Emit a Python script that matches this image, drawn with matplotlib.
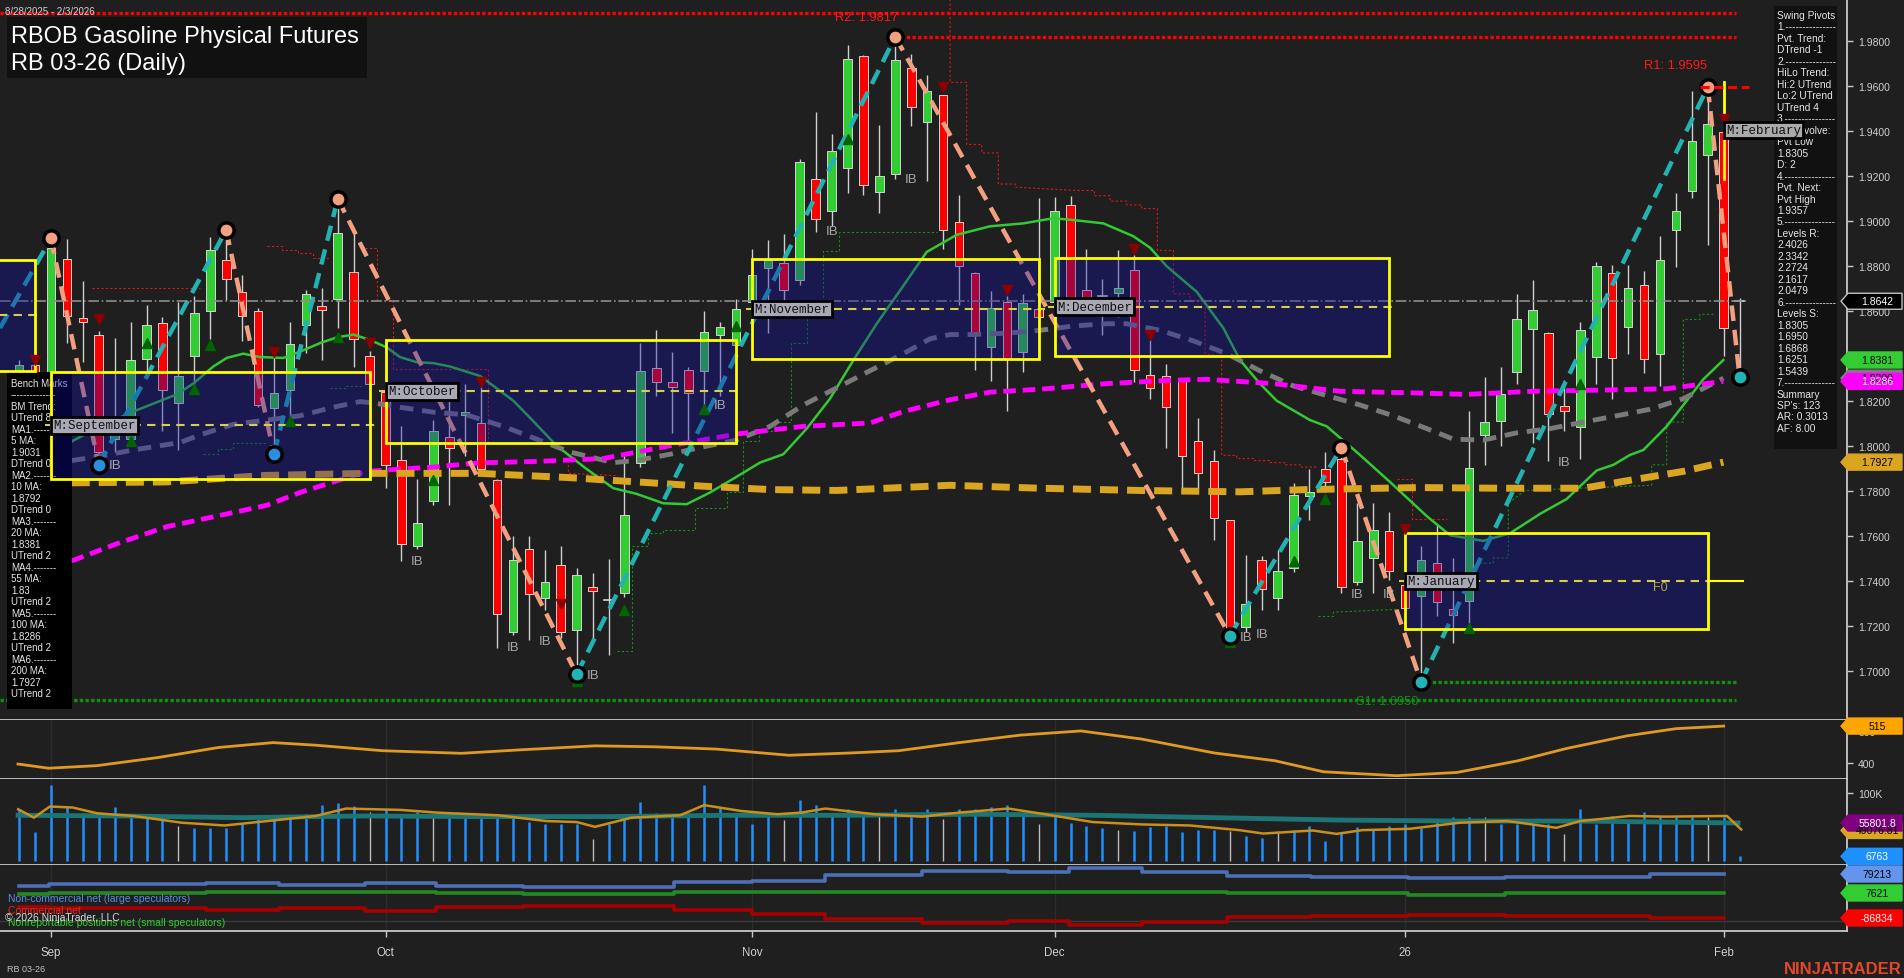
import numpy as np
import matplotlib
matplotlib.use("Agg")
import matplotlib.pyplot as plt
from matplotlib.patches import Rectangle, Polygon
from matplotlib.transforms import IdentityTransform

plt.rcParams['font.family'] = ['Liberation Sans', 'DejaVu Sans']

# ---------------- text ----------------
title_line1 = "RBOB Gasoline Physical Futures"
title_line2 = "RB 03-26 (Daily)"
date_range = "8/28/2025 - 2/3/2026"

month_tick_idx = [2, 23, 46, 65, 87, 107]
month_tick_lbl = ["Sep", "Oct", "Nov", "Dec", "26", "Feb"]
price_ticks = [1.70, 1.72, 1.74, 1.76, 1.78, 1.80, 1.82, 1.84, 1.86, 1.88, 1.90, 1.92, 1.94, 1.96, 1.98]

# ---------------- OHLC (daily bars, index 0 = 8/28/2025) ----------------
opens = [1.8330, 1.8360, 1.8320, 1.8830, 1.8566, 1.8490, 1.8030, 1.8030, 1.8384, 1.8545,
         1.8188, 1.8400, 1.8599, 1.8826, 1.8684, 1.8599, 1.8168, 1.8247, 1.8536, 1.8622,
         1.8650, 1.8773, 1.8399, 1.8238, 1.7938, 1.7554, 1.7753, 1.8038, 1.8135, 1.8101,
         1.7848, 1.7174, 1.7540, 1.7321, 1.7469, 1.7180, 1.7374, 1.7310, 1.7345, 1.7924,
         1.8346, 1.8285, 1.8337, 1.8333, 1.8491, 1.8447, 1.8637, 1.8788, 1.8813, 1.8735,
         1.9187, 1.9041, 1.9235, 1.9732, 1.9126, 1.9206, 1.9677, 1.9438, 1.9558, 1.8992,
         1.8766, 1.8437, 1.8640, 1.8418, 1.8608, 1.8637, 1.9070, 1.8690, 1.8660, 1.8678,
         1.8779, 1.8314, 1.8308, 1.8295, 1.8019, 1.7934, 1.7668, 1.7193, 1.7491, 1.7323,
         1.7455, 1.7778, 1.7896, 1.7943, 1.7393, 1.7501, 1.7621, 1.7383, 1.7330, 1.7478,
         1.7275, 1.7311, 1.8048, 1.8109, 1.8327, 1.8519, 1.8500, 1.8177, 1.8082, 1.8394,
         1.8769, 1.8527, 1.8713, 1.8409, 1.8959, 1.9134, 1.9292, 1.9396, 1.8640]
highs = [1.8380, 1.8420, 1.8921, 1.8918, 1.8730, 1.8510, 1.8480, 1.8550, 1.8627, 1.8570,
         1.8637, 1.8665, 1.8927, 1.8959, 1.8760, 1.8610, 1.8390, 1.8550, 1.8690, 1.8703,
         1.9098, 1.8940, 1.8420, 1.8260, 1.8086, 1.7850, 1.8114, 1.8200, 1.8275, 1.8260,
         1.7850, 1.7598, 1.7600, 1.7535, 1.7554, 1.7455, 1.7434, 1.7497, 1.7972, 1.8456,
         1.8513, 1.8418, 1.8350, 1.8599, 1.8550, 1.8652, 1.8874, 1.8912, 1.8940, 1.9273,
         1.9482, 1.9387, 1.9780, 1.9735, 1.9425, 1.9817, 1.9740, 1.9647, 1.9560, 1.9115,
         1.8770, 1.8688, 1.8665, 1.8675, 1.9100, 1.9106, 1.9111, 1.8874, 1.8741, 1.8868,
         1.8846, 1.8469, 1.8365, 1.8300, 1.8124, 1.7981, 1.7670, 1.7516, 1.7510, 1.7535,
         1.7835, 1.7896, 1.7972, 1.7991, 1.7744, 1.7744, 1.7706, 1.7420, 1.7554, 1.7649,
         1.7503, 1.8152, 1.8304, 1.8348, 1.8675, 1.8735, 1.8505, 1.8291, 1.8551, 1.8817,
         1.8802, 1.8804, 1.8775, 1.8931, 1.9125, 1.9577, 1.9595, 1.9580, 1.8656]
lows = [1.8290, 1.8280, 1.8280, 1.8456, 1.8370, 1.7915, 1.7970, 1.8000, 1.8310, 1.8067,
        1.7980, 1.8270, 1.8475, 1.8646, 1.8466, 1.8170, 1.7962, 1.8114, 1.8410, 1.8380,
        1.8523, 1.8350, 1.8250, 1.7810, 1.7488, 1.7539, 1.7735, 1.7735, 1.7955, 1.7875,
        1.7102, 1.7160, 1.7136, 1.7270, 1.7146, 1.6984, 1.7123, 1.7070, 1.7326, 1.7905,
        1.8223, 1.8057, 1.8020, 1.8180, 1.8220, 1.8430, 1.8580, 1.8500, 1.8640, 1.8713,
        1.8950, 1.8978, 1.9125, 1.9115, 1.9035, 1.9185, 1.9420, 1.9178, 1.8874, 1.8627,
        1.8338, 1.8289, 1.8152, 1.8329, 1.8550, 1.8600, 1.8580, 1.8580, 1.8494, 1.8570,
        1.8285, 1.8209, 1.7991, 1.7810, 1.7810, 1.7579, 1.7155, 1.7174, 1.7269, 1.7269,
        1.7440, 1.7668, 1.7792, 1.7345, 1.7383, 1.7345, 1.7402, 1.7265, 1.6950, 1.7241,
        1.7123, 1.7212, 1.7915, 1.8000, 1.8276, 1.8010, 1.7934, 1.8067, 1.7943, 1.8276,
        1.8209, 1.8409, 1.8323, 1.8266, 1.8792, 1.9102, 1.8893, 1.8399, 1.8305]
closes = [1.8360, 1.8320, 1.8880, 1.8576, 1.8550, 1.7970, 1.8050, 1.8380, 1.8536, 1.8247,
          1.8310, 1.8590, 1.8868, 1.8740, 1.8576, 1.8181, 1.8234, 1.8450, 1.8675, 1.8603,
          1.8944, 1.8475, 1.8276, 1.7915, 1.7564, 1.7658, 1.8067, 1.7991, 1.8150, 1.7896,
          1.7254, 1.7491, 1.7340, 1.7396, 1.7170, 1.7427, 1.7355, 1.7316, 1.7691, 1.8333,
          1.8285, 1.8260, 1.8234, 1.8507, 1.8526, 1.8608, 1.8760, 1.8826, 1.8694, 1.9259,
          1.9007, 1.9311, 1.9719, 1.9159, 1.9197, 1.9715, 1.9505, 1.9578, 1.8960, 1.8798,
          1.8500, 1.8612, 1.8384, 1.8633, 1.8570, 1.9045, 1.8637, 1.8637, 1.8665, 1.8699,
          1.8338, 1.8257, 1.8171, 1.7953, 1.7877, 1.7678, 1.7174, 1.7298, 1.7364, 1.7444,
          1.7782, 1.7795, 1.7839, 1.7374, 1.7577, 1.7626, 1.7444, 1.7279, 1.7493, 1.7307,
          1.7247, 1.7900, 1.8105, 1.8228, 1.8561, 1.8602, 1.8143, 1.8152, 1.8513, 1.8798,
          1.8390, 1.8699, 1.8386, 1.8827, 1.9045, 1.9354, 1.9429, 1.8523, 1.8642]

# ---------------- moving averages ----------------
ma20_x = [3.30, 5.08, 7.17, 8.21, 9.89, 10.93, 12.19, 13.03, 14.07, 15.12,
          16.58, 17.63, 18.89, 19.93, 20.98, 22.03, 23.07, 23.91, 24.96, 26.00,
          27.05, 28.93, 31.02, 32.07, 33.74, 35.63, 37.30, 38.76, 40.44, 41.90,
          43.37, 45.04, 46.51, 47.97, 49.44, 50.90, 52.37, 53.83, 55.30, 56.97,
          58.85, 60.94, 63.03, 64.92, 66.17, 68.06, 69.94, 70.99, 72.03, 73.92,
          75.59, 76.64, 77.89, 78.94, 81.03, 82.08, 83.96, 86.05, 88.36, 89.82,
          91.91, 93.59, 95.47, 97.14, 99.03, 100.08, 101.12, 101.96, 103.42, 104.47,
          105.72, 106.98]
ma20_y = [1.8019, 1.8086, 1.8152, 1.8181, 1.8228, 1.8276, 1.8352, 1.8390, 1.8409, 1.8394,
          1.8390, 1.8418, 1.8456, 1.8481, 1.8494, 1.8470, 1.8437, 1.8394, 1.8371, 1.8367,
          1.8352, 1.8310, 1.8200, 1.8124, 1.8000, 1.7896, 1.7811, 1.7786, 1.7744, 1.7740,
          1.7792, 1.7862, 1.7925, 1.7962, 1.8076, 1.8209, 1.8380, 1.8542, 1.8690, 1.8861,
          1.8937, 1.8975, 1.8988, 1.9011, 1.9003, 1.8988, 1.8931, 1.8880, 1.8798, 1.8684,
          1.8523, 1.8380, 1.8276, 1.8200, 1.8114, 1.8086, 1.7972, 1.7839, 1.7687, 1.7602,
          1.7577, 1.7611, 1.7697, 1.7763, 1.7890, 1.7915, 1.7959, 1.7981, 1.8086, 1.8181,
          1.8295, 1.8381]
ma55_x = [3.30, 5.08, 7.17, 8.84, 10.1, 11.35, 13.45, 15.54, 17.63, 19.72,
          21.4, 22.24, 23.91, 26.0, 28.09, 30.39, 32.49, 34.58, 37.30, 38.76,
          40.86, 42.95, 45.04, 47.14, 49.23, 51.32, 53.41, 55.51, 57.18, 58.43,
          59.9, 62.0, 64.1, 66.17, 68.27, 69.52, 71.61, 73.7, 75.8, 77.89,
          79.98, 82.08, 84.17, 86.26, 88.36, 90.03, 91.91, 94.0, 96.1, 98.2,
          100.29, 102.38, 104.47, 106.98]
ma55_y = [1.7934, 1.7953, 1.7981, 1.8000, 1.8014, 1.8048, 1.8095, 1.8114, 1.8133, 1.8171,
          1.8196, 1.8190, 1.8171, 1.8149, 1.8137, 1.8086, 1.8029, 1.7972, 1.7925, 1.7934,
          1.7962, 1.7995, 1.8025, 1.8086, 1.8181, 1.8257, 1.8333, 1.8409, 1.8475, 1.8494,
          1.8494, 1.8500, 1.8513, 1.8532, 1.8542, 1.8542, 1.8513, 1.8466, 1.8409, 1.8333,
          1.8266, 1.8223, 1.8181, 1.8133, 1.8076, 1.8029, 1.8025, 1.8057, 1.8076, 1.8105,
          1.8133, 1.8162, 1.8209, 1.8300]
ma100_x = [3.30, 6.12, 9.26, 12.40, 15.54, 17.63, 19.72, 21.82, 23.91, 26.0,
           28.93, 32.49, 36.67, 40.86, 45.04, 49.23, 53.41, 55.51, 58.43, 60.94,
           64.08, 68.27, 72.45, 74.54, 78.72, 82.91, 87.93, 90.86, 95.05, 99.24,
           103.42, 106.98]
ma100_y = [1.7488, 1.7564, 1.7640, 1.7687, 1.7735, 1.7792, 1.7839, 1.7886, 1.7896, 1.7905,
           1.7924, 1.7930, 1.7943, 1.8000, 1.8052, 1.8086, 1.8101, 1.8152, 1.8204, 1.8238,
           1.8251, 1.8276, 1.8291, 1.8295, 1.8276, 1.8242, 1.8234, 1.8228, 1.8242, 1.8247,
           1.8253, 1.8286]
ma200_x = [3.30, 9.26, 15.54, 21.82, 28.93, 34.58, 38.76, 42.95, 47.14, 51.32,
           58.43, 64.08, 70.36, 76.64, 80.82, 87.93, 92.96, 98.2, 101.33, 104.47, 106.98]
ma200_y = [1.7835, 1.7839, 1.7868, 1.7877, 1.7877, 1.7858, 1.7839, 1.7820, 1.7805, 1.7801,
           1.7824, 1.7811, 1.7801, 1.7795, 1.7805, 1.7814, 1.7811, 1.7811, 1.7849, 1.7886, 1.7927]

# ---------------- swing pivots / zigzag ----------------
zz_x = [-1.2, 2, 5, 13, 16, 20, 35, 55, 76, 83, 88, 106, 108]
zz_y = [1.8523, 1.8921, 1.7915, 1.8959, 1.7962, 1.9098, 1.6984, 1.9817, 1.7155, 1.7991, 1.6950, 1.9595, 1.8305]
piv_hi_x = [2, 13, 20, 55, 83, 106]
piv_hi_y = [1.8921, 1.8959, 1.9098, 1.9817, 1.7991, 1.9595]
piv_lo_x = [5, 16, 35, 76, 88, 108]
piv_lo_y = [1.7915, 1.7962, 1.6984, 1.7155, 1.6950, 1.8305]
piv_lo_col = ['#2a8fe0', '#2a8fe0', '#22b4b4', '#22b4b4', '#22b4b4', '#22b4b4']

# ---------------- monthly range boxes ----------------
box_name = ["", "M:September", "M:October", "M:November", "M:December", "M:January"]
box_start = [-1.6, 2, 23, 46, 65, 87]
box_end = [1.0, 22, 45, 64, 86, 106]
box_top = [1.8827, 1.8329, 1.8471, 1.8830, 1.8832, 1.7611]
box_bot = [1.8333, 1.7852, 1.8010, 1.8384, 1.8399, 1.7184]
box_mid = [1.8583, 1.8090, 1.8241, 1.8608, 1.8618, 1.7399]

# ---------------- levels ----------------
lvl_r_top = 1.9923
lvl_r2 = 1.9817
lvl_r1 = 1.9595
lvl_s1 = 1.6950
lvl_s2 = 1.6868
last_price = 1.8642

# ---------------- trailing stop steps ----------------
red_trail = [
    [(4.55, 1.8703), (11.35, 1.8703)],
    [(15.54, 1.8889), (16.48, 1.8889), (16.48, 1.8868), (17.48, 1.8868), (17.48, 1.8855),
     (18.47, 1.8855), (18.47, 1.8836), (19.5, 1.8836)],
    [(21.71, 1.8880), (22.49, 1.8880), (22.49, 1.8646), (23.49, 1.8646), (23.49, 1.8342),
     (29.45, 1.8342), (29.45, 1.8014)],
    [(34.48, 1.7934), (34.48, 1.7877), (37.5, 1.7867)],
    [(58.44, 1.9985), (58.44, 1.9615), (59.48, 1.9615), (59.48, 1.9339), (60.43, 1.9339),
     (60.43, 1.9301), (61.47, 1.9301), (61.47, 1.9163), (62.52, 1.9163), (62.52, 1.9149),
     (66.49, 1.9134), (67.5, 1.9134), (67.5, 1.9111), (68.48, 1.9111), (68.48, 1.9087),
     (69.53, 1.9087), (69.53, 1.9070), (70.47, 1.9070), (70.47, 1.9054), (71.45, 1.9054),
     (71.45, 1.8868), (72.46, 1.8868), (72.46, 1.8675), (73.5, 1.8675), (73.5, 1.8646),
     (74.45, 1.8646), (74.45, 1.8409), (75.49, 1.8399), (75.49, 1.7957), (76.43, 1.7957),
     (76.43, 1.7943), (77.48, 1.7943), (77.48, 1.7934), (78.53, 1.7934), (78.53, 1.7925),
     (79.47, 1.7925), (79.47, 1.7915), (80.51, 1.7915), (80.51, 1.7905), (81.56, 1.7905)],
    [(86.48, 1.7854), (87.42, 1.7854), (87.42, 1.7672), (89.61, 1.7672)],
]
green_trail = [
    [(11.56, 1.7963), (12.5, 1.7963), (12.5, 1.7987), (13.45, 1.7987), (13.45, 1.8010), (15.54, 1.8010)],
    [(19.51, 1.8257), (20.5, 1.8257), (20.5, 1.8266), (21.61, 1.8266)],
    [(37.51, 1.7089), (38.49, 1.7089), (38.49, 1.7554), (39.49, 1.7554), (39.49, 1.7611),
     (40.44, 1.7611), (40.44, 1.7626), (42.42, 1.7626), (42.42, 1.7721), (44.45, 1.7721),
     (44.45, 1.7792), (45.46, 1.7792), (45.46, 1.8019), (46.46, 1.8019), (46.46, 1.8067),
     (47.47, 1.8067), (47.47, 1.8105), (48.45, 1.8105), (48.45, 1.8456), (49.48, 1.8456),
     (49.48, 1.8618), (50.48, 1.8618), (50.48, 1.8865), (51.48, 1.8865), (51.48, 1.8950),
     (57.59, 1.8950)],
    [(81.56, 1.7241), (82.5, 1.7241), (82.5, 1.7260), (86.48, 1.7273)],
    [(91.7, 1.7478), (92.54, 1.7478), (92.54, 1.7501), (93.48, 1.7501), (93.48, 1.7744),
     (94.53, 1.7801), (102.48, 1.7824), (102.48, 1.7915), (103.42, 1.7915), (103.42, 1.8105),
     (104.47, 1.8105), (104.47, 1.8561), (105.51, 1.8561), (105.51, 1.8584), (106.45, 1.8584)],
]

# ---------------- markers ----------------
ib_x = [6, 25, 31, 33, 36, 44, 51, 56, 77, 78, 84, 86, 97]
ib_y = [1.7915, 1.7488, 1.7104, 1.7131, 1.6981, 1.8181, 1.8954, 1.9187, 1.7150, 1.7165, 1.7341, 1.7341, 1.7928]
tri_dn_x = [1, 5, 16, 22, 29, 34, 58, 62, 70, 71, 87, 107]
tri_dn_y = [1.8380, 1.8561, 1.8418, 1.8456, 1.8285, 1.7298, 1.9596, 1.8690, 1.8874, 1.8494, 1.7630, 1.9453]
tri_up_x = [7, 8, 11, 12, 17, 20, 26, 35, 38, 43, 45, 52, 76, 80, 82, 91, 98, 108]
tri_up_y = [1.8019, 1.8456, 1.8251, 1.8447, 1.8109, 1.8485, 1.7848, 1.6956, 1.7269, 1.8162,
            1.8532, 1.9362, 1.7127, 1.7488, 1.7763, 1.7190, 1.8272, 1.8295]

# ---------------- lower panels ----------------
osc_x = [-0.07, 1.85, 4.89, 8.72, 12.52, 15.94, 18.62, 22.81, 27.77, 31.57,
         36.15, 39.96, 43.78, 48.33, 52.16, 55.21, 59.02, 62.83, 66.65, 70.46,
         75.03, 78.84, 81.89, 86.46, 90.26, 94.09, 97.14, 100.95, 104.0, 106.28, 107.0]
osc_y = [398, 385, 393, 418, 449, 464, 456, 439, 431, 442,
         454, 451, 444, 425, 432, 439, 464, 487, 500, 475,
         432, 408, 374, 362, 372, 408, 446, 485, 507, 513, 515]

volume_k = [76, 42, 112, 79, 71, 69, 80, 66, 67, 66,
            52, 49, 49, 49, 56, 61, 60, 64, 69, 82,
            86, 81, 72, 76, 69, 72, 65, 65, 67, 64,
            66, 65, 57, 55, 55, 55, 32, 55, 62, 87,
            71, 67, 71, 112, 79, 69, 55, 71, 60, 90,
            82, 67, 76, 69, 66, 76, 64, 77, 61, 76,
            77, 80, 82, 71, 55, 69, 56, 52, 49, 46,
            44, 50, 51, 42, 46, 45, 44, 37, 34, 44,
            45, 52, 30, 42, 50, 47, 52, 54, 49, 57,
            64, 65, 64, 55, 54, 55, 55, 39, 76, 54,
            66, 60, 72, 64, 65, 65, 65, 65, 6.8]
volume_grey_idx = [10, 22, 26, 36, 48, 54, 58, 64, 69, 76, 79, 92, 97, 106]
vma_x = [-0.06, 0.93, 1.93, 3.37, 4.9, 7.18, 10.23, 12.9, 15.57, 18.62,
         20.52, 23.95, 26.24, 30.06, 33.1, 35.0, 36.15, 38.44, 41.49, 43.0,
         45.3, 47.6, 49.1, 50.6, 53.7, 56.7, 59.0, 62.1, 64.4, 67.4,
         70.5, 73.5, 76.6, 78.1, 81.2, 82.7, 84.3, 87.3, 90.4, 93.4,
         96.5, 98.0, 101.1, 103.4, 107.2, 108.1]
vma_y = [76.1, 63.7, 80.1, 78.6, 70.1, 66.2, 56.2, 52.2, 58.7, 66.2,
         77.1, 75.1, 71.1, 67.2, 58.7, 57.2, 50.2, 63.7, 67.2, 82.1,
         73.6, 68.7, 71.1, 77.1, 68.7, 65.2, 71.1, 77.1, 68.7, 57.2,
         53.7, 52.2, 45.3, 40.3, 44.8, 39.8, 45.3, 47.3, 56.2, 58.7,
         48.8, 58.7, 66.2, 65.2, 66.2, 46.3]
vslow_x = [-0.06, 6.42, 14.0, 21.7, 29.3, 36.9, 44.5, 52.2, 59.8, 67.4, 75.0, 82.7, 90.4, 98.0, 107.9]
vslow_y = [67.2, 66.2, 63.7, 66.2, 65.2, 65.2, 67.2, 67.2, 68.7, 67.2, 63.7, 60.2, 58.7, 58.7, 55.8]

cot_edges = [0, 1.85, 11.76, 16.3, 21.7, 26.2, 31.6, 41.1, 46.0, 50.6, 56.7, 62.1, 65.9, 70.5,
             75.8, 81.1, 87.2, 93.3, 102.4, 107.0]
cot_noncomm_k = [35.1, 41.5, 45.2, 38.9, 45.2, 35.1, 31.3, 47.8, 54.1, 75.4, 91.7, 88.0, 100.6,
                 88.0, 72.8, 69.0, 65.2, 69.0, 79.2]
cot_nonrep_k = [3.7, 8.0, 10.1, 10.1, 10.1, 6.4, 3.5, 10.1, 10.1, 10.1, 10.1, 10.1, 10.1,
                10.1, 6.4, 6.4, 0.0, 6.4, 7.6]
cot_comm_k = [-46.5, -48.0, -55.5, -50.2, -59.3, -46.5, -40.4, -56.7, -71.7, -90.6, -105.7, -97.0,
              -113.3, -100.8, -82.0, -78.2, -74.4, -78.2, -86.8]

bench_lines = ["Bench Marks", "--------------", "BM Trend:", "UTrend 8", "MA1.-------", "5 MA:",
               "1.9031", "DTrend 0", "MA2.-------", "10 MA:", "1.8792", "DTrend 0", "MA3.-------",
               "20 MA:", "1.8381", "UTrend 2", "MA4.-------", "55 MA:", "1.83", "UTrend 2",
               "MA5.-------", "100 MA:", "1.8286", "UTrend 2", "MA6.-------", "200 MA:", "1.7927",
               "UTrend 2"]
swing_lines = ["Swing Pivots", "1.---------------", "Pvt. Trend:", "DTrend -1", "2.---------------",
               "HiLo Trend:", "Hi:2 UTrend", "Lo:2 UTrend", "UTrend 4", "3.---------------",
               "Pvt. Evolve:", "Pvt Low", "1.8305", "D: 2", "4.---------------", "Pvt. Next:",
               "Pvt High", "1.9357", "5.---------------", "Levels R:", "2.4026", "2.3342", "2.2724",
               "2.1617", "2.0479", "6.---------------", "Levels S:", "1.8305", "1.6950", "1.6868",
               "1.6251", "1.5439", "7.---------------", "Summary", "SP's: 123", "AR: 0.3013", "AF: 8.00"]

# ---------------- figure ----------------
W, H = 1904, 979
BG = '#1f1f1f'
AXR = 1847
XL = (-1.2, 114.74)
fig = plt.figure(figsize=(W / 100, H / 100), dpi=100, facecolor=BG)


def mk_axes(top, bottom):
    return fig.add_axes([0, 1 - bottom / H, AXR / W, (bottom - top) / H])


ax = mk_axes(0, 721)
ax2 = mk_axes(721, 780)
ax3 = mk_axes(780, 866)
ax4 = mk_axes(866, 932)


def setup(a, ylim):
    a.set_facecolor(BG)
    a.set_xlim(*XL)
    a.set_ylim(*ylim)
    for s in ['top', 'left']:
        a.spines[s].set_visible(False)
    for s in ['right', 'bottom']:
        a.spines[s].set_color('#c8c8c8')
        a.spines[s].set_linewidth(1.3)
    a.yaxis.tick_right()
    a.tick_params(axis='y', colors='#c8c8c8', labelcolor='#d0d0d0', length=4, width=1,
                  labelsize=7.5, pad=4)
    a.set_xticks([])


setup(ax, (1.67809, 1.99853))
setup(ax2, (351.8, 533.7))
setup(ax3, (-6.0, 120.6))
setup(ax4, (-135.9, 113.2))

ax.set_yticks(price_ticks)
ax.set_yticklabels([f"{v:.4f}" for v in price_ticks])
ax2.set_yticks([400, 500])
ax2.set_yticklabels(['400', '500'])
ax3.set_yticks([100])
ax3.set_yticklabels(['100K'])
ax4.set_yticks([])
ax4.set_xticks(month_tick_idx)
ax4.set_xticklabels(month_tick_lbl)
ax4.tick_params(axis='x', colors='#c8c8c8', labelcolor='#d0d0d0', length=4, width=1,
                labelsize=8.3, pad=7)

for a in (ax2, ax3, ax4):
    for m in month_tick_idx:
        a.axvline(m, color='#2c2c2c', lw=1, zorder=0.5)


def px(x, ytop):
    return x, H - ytop


# ---------------- price panel ----------------
for seg in red_trail:
    xs, ys = zip(*seg)
    ax.plot(xs, ys, color='#e01818', lw=0.8, ls=(0, (2, 2)), zorder=1.5)
for seg in green_trail:
    xs, ys = zip(*seg)
    ax.plot(xs, ys, color='#169016', lw=0.8, ls=(0, (2, 2)), zorder=1.5)

BW = 0.54
for i in range(len(opens)):
    o, h, l, c = opens[i], highs[i], lows[i], closes[i]
    ax.plot([i, i], [l, h], color='#cfcfcf', lw=1, zorder=2, solid_capstyle='butt')
    col = '#32cd32' if c >= o else '#ff0000'
    if abs(c - o) < 0.0006:
        ax.plot([i - BW / 2, i + BW / 2], [c, c], color='#d8d8d8', lw=1.2, zorder=2.5)
    else:
        ax.add_patch(Rectangle((i - BW / 2, min(o, c)), BW, abs(c - o), facecolor=col,
                               edgecolor='#d4d4d4', lw=0.7, zorder=2.5))

ax.plot(ma20_x, ma20_y, color='#34c934', lw=1.8, zorder=3)
ax.plot(ma55_x, ma55_y, color='#7a7a7a', lw=3.5, ls=(0, (2.8, 1.8)), zorder=3)
ax.plot(ma100_x, ma100_y, color='#ff00ff', lw=3.5, ls=(0, (2.6, 1.4)), zorder=3.05)
ax.plot(ma200_x, ma200_y, color='#daa520', lw=5, ls=(0, (2.6, 1.3)), zorder=3.05)

# level dotted lines
dot = (0, (1, 0.7))
ax.plot([XL[0], 107.8], [lvl_r_top] * 2, color='#ff0000', lw=2.4, ls=dot, zorder=3.2)
ax.plot([55, 107.8], [lvl_r2] * 2, color='#ff0000', lw=2.4, ls=dot, zorder=3.2)
ax.plot([88, 107.8], [lvl_s1] * 2, color='#0f900f', lw=2.4, ls=dot, zorder=3.2)
ax.plot([XL[0], 107.8], [lvl_s2] * 2, color='#0f900f', lw=2.4, ls=dot, zorder=3.2)
ax.plot([105.5, 108.6], [lvl_r1] * 2, color='#ff0000', lw=2.2, ls=(0, (3, 1.5)), zorder=6.5)

# current price line
ax.plot([XL[0], 108.4], [last_price] * 2, color='#8c8c8c', lw=1.2, ls='-.', zorder=3.6)

# zigzag
for k in range(len(zz_x) - 1):
    up = zz_y[k + 1] > zz_y[k]
    ax.plot([zz_x[k], zz_x[k + 1]], [zz_y[k], zz_y[k + 1]],
            color='#22b2b2' if up else '#f2a080', lw=3.2, ls=(0, (3.5, 2)), zorder=3.5,
            dash_capstyle='butt')

# bench marks box
ax.add_patch(Rectangle(px(7, 710), 65, 337, transform=IdentityTransform(), facecolor='#000000',
                       edgecolor='none', zorder=4))
for k, s in enumerate(bench_lines):
    ax.text(*px(11, 384 + 11.5 * k), s, transform=IdentityTransform(), color='#e6e6e6',
            fontsize=7, va='center', ha='left', zorder=4.1)

# swing pivots box
ax.add_patch(Rectangle(px(1774, 450), 63, 443, transform=IdentityTransform(), facecolor='#111111',
                       edgecolor='none', zorder=4))
for k, s in enumerate(swing_lines):
    ax.text(*px(1777, 16 + 11.47 * k), s, transform=IdentityTransform(), color='#e6e6e6',
            fontsize=7.3, va='center', ha='left', zorder=4.1)

# monthly boxes
for k in range(len(box_name)):
    s, e = box_start[k], box_end[k]
    ax.add_patch(Rectangle((s, box_bot[k]), e - s, box_top[k] - box_bot[k], facecolor='#0e0eaa',
                           alpha=0.35, edgecolor='none', zorder=5))
    ax.add_patch(Rectangle((s, box_bot[k]), e - s, box_top[k] - box_bot[k], fill=False,
                           edgecolor='#ffff00', lw=2, zorder=5.2))
    ax.plot([s - 0.4, e + 0.4], [box_mid[k]] * 2, color='#d6cf48', lw=1.5, ls=(0, (4, 3)), zorder=5.1)
    if box_name[k]:
        ax.text(s + 0.15, box_mid[k], box_name[k], family=['Liberation Mono', 'DejaVu Sans Mono'],
                fontsize=9, color='#101010', ha='left', va='center', zorder=7,
                bbox=dict(boxstyle='square,pad=0.18', fc='#a9a9b6', ec='#000000', lw=2))
ax.plot([106, 108.2], [box_mid[-1]] * 2, color='#ffff00', lw=1.5, zorder=5.2)
ax.plot([107, 107], [1.9187, 1.9615], color='#ffff00', lw=2, zorder=5.2)
ax.text(107.15, 1.9402, "M:February", family=['Liberation Mono', 'DejaVu Sans Mono'], fontsize=9,
        color='#101010', ha='left', va='center', zorder=7,
        bbox=dict(boxstyle='square,pad=0.18', fc='#aaaaaa', ec='#000000', lw=2))
ax.text(103.0, 1.7374, "F0", color='#b8a83c', fontsize=9, ha='center', va='center', zorder=6)

# pivots
ax.plot(piv_hi_x, piv_hi_y, 'o', ms=11, mfc='#f2a080', mec='#000000', mew=2.5, zorder=6)
for x, y, c in zip(piv_lo_x, piv_lo_y, piv_lo_col):
    ax.plot([x], [y], 'o', ms=11, mfc=c, mec='#000000', mew=2.5, zorder=6)

ax.plot(tri_dn_x, tri_dn_y, 'v', ms=7.5, color='#8b0000', zorder=5.5)
ax.plot(tri_up_x, tri_up_y, '^', ms=7.5, color='#006400', zorder=5.5)

for x, y in zip(ib_x, ib_y):
    ax.text(x, y, "IB", color='#a8a8a8', fontsize=9.5, ha='center', va='center', zorder=6)

ax.text(53.2, 1.9905, "R2: 1.9817", color='#ff1a1a', fontsize=9.3, ha='center', va='center', zorder=7)
ax.text(104.0, 1.9692, "R1: 1.9595", color='#ff1a1a', fontsize=9.3, ha='center', va='center', zorder=7)
ax.text(85.9, 1.6866, "S1: 1.6950", color='#109010', fontsize=9.3, ha='center', va='center', zorder=7)

# title block
ax.add_patch(Rectangle(px(7, 79), 360, 61, transform=IdentityTransform(), facecolor='#111111',
                       edgecolor='none', zorder=8))
ax.text(*px(11, 43), title_line1, transform=IdentityTransform(), color='#ffffff', fontsize=17,
        va='baseline', ha='left', zorder=8.1)
ax.text(*px(11, 70), title_line2, transform=IdentityTransform(), color='#ffffff', fontsize=17,
        va='baseline', ha='left', zorder=8.1)
ax.text(*px(5, 15), date_range, transform=IdentityTransform(), color='#d0d0d0', fontsize=7,
        va='baseline', ha='left', zorder=8.1)

# ---------------- oscillator panel ----------------
ax2.plot(osc_x, osc_y, color='#e09a22', lw=2, zorder=3)

# ---------------- volume panel ----------------
for i, v in enumerate(volume_k):
    if i in volume_grey_idx:
        ax3.plot([i, i], [0, v], color='#bdbdbd', lw=1, zorder=2, solid_capstyle='butt')
    else:
        ax3.plot([i, i], [0, v], color='#1e90ff', lw=1.8, zorder=2, solid_capstyle='butt')
ax3.plot(vslow_x, vslow_y, color='#1c7474', lw=3.5, zorder=3)
ax3.plot(vma_x, vma_y, color='#c8901a', lw=1.8, zorder=3.1)

# ---------------- COT panel ----------------
def step_xy(edges, vals):
    xs, ys = [], []
    for k, v in enumerate(vals):
        xs += [edges[k], edges[k + 1]]
        ys += [v, v]
    return xs, ys


ax4.axhline(-99.3, color='#3a3a3a', lw=1, zorder=1)
ax4.plot(*step_xy(cot_edges, cot_noncomm_k), color='#4d6fb5', lw=2.6, zorder=3)
ax4.plot(*step_xy(cot_edges, cot_nonrep_k), color='#238a23', lw=2.6, zorder=3)
ax4.plot(*step_xy(cot_edges, cot_comm_k), color='#a80000', lw=2.6, zorder=3)

fig.text(8 / W, 1 - 899 / H, "Non-commercial net (large speculators)", color='#5a8ae6', fontsize=7.5,
         va='center', ha='left')
fig.text(8 / W, 1 - 911 / H, "Commercial net", color='#ff2020', fontsize=7.5, va='center', ha='left')
fig.text(8 / W, 1 - 923 / H, "Nonreportable positions net (small speculators)", color='#32cd32',
         fontsize=7.5, va='center', ha='left')
fig.text(5 / W, 1 - 918 / H, "\u00a9 2026 NinjaTrader, LLC", color='#d8d8d8', fontsize=7.5,
         va='center', ha='left')

fig.text(7 / W, 1 - 970 / H, "RB 03-26", color='#c0c0c0', fontsize=6.5, va='center', ha='left')
fig.text(1902 / W, 1 - 970 / H, "NINJATRADER", color='#e4482a', fontsize=12, fontweight='bold',
         va='center', ha='right')


# ---------------- right-axis value tags ----------------
def tag(a, val, txt, fc, tc, ec=None):
    y = a.transData.transform((0, val))[1]
    pts = [[1841, y], [1848, y + 8], [1902, y + 8], [1902, y - 8], [1848, y - 8]]
    fig.add_artist(Polygon(pts, closed=True, transform=IdentityTransform(), facecolor=fc,
                           edgecolor=ec or fc, lw=1, zorder=30))
    fig.text(1877 / W, y / H, txt, color=tc, fontsize=7.5, ha='center', va='center', zorder=31)


tag(ax, 1.7927, "1.7927", '#daa520', '#000000')
tag(ax, 1.8300, "1.8300", '#808080', '#000000')
tag(ax, 1.8286, "1.8286", '#ff00ff', '#ffffff')
tag(ax, 1.8381, "1.8381", '#32cd32', '#000000')
tag(ax, last_price, "1.8642", '#000000', '#ffffff', ec='#c0c0c0')
tag(ax2, 515, "515", '#ffa500', '#000000')
tag(ax3, 44.9, "49076.81", '#daa520', '#000000')
tag(ax3, 55.8, "55801.8", '#800080', '#ffffff')
tag(ax3, 6.763, "6763", '#1e90ff', '#ffffff')
tag(ax4, 79.213, "79213", '#6495ed', '#000000')
tag(ax4, 7.621, "7621", '#32cd32', '#000000')
tag(ax4, -86.834, "-86834", '#ff0000', '#ffffff')

fig.savefig("out.png", dpi=100, facecolor=BG)
